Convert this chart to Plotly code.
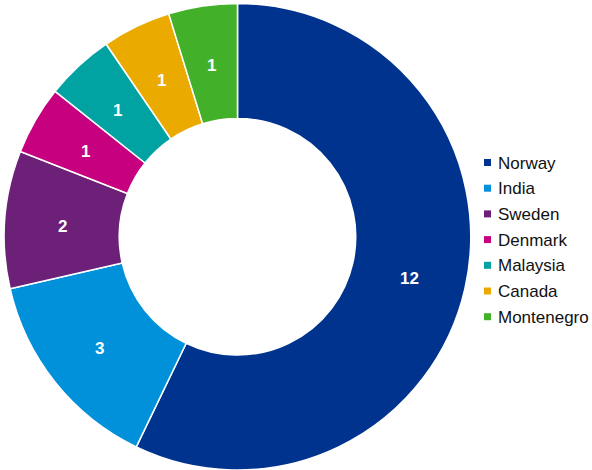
import math
import plotly.graph_objects as go

countries = ["Norway", "India", "Sweden", "Denmark", "Malaysia", "Canada", "Montenegro"]
values = [12, 3, 2, 1, 1, 1, 1]
colors = ["#00338D", "#0091DA", "#6D2077", "#C6007E", "#00A3A1", "#EAAA00", "#43B02A"]

W, H = 592, 470
FONT = "Liberation Sans, Arial, sans-serif"

# pie geometry (pixels)
CX, CY, R_OUT = 237.5, 237, 233.5
HOLE = 0.507

fig = go.Figure(go.Pie(
    labels=countries,
    values=values,
    marker=dict(colors=colors, line=dict(color="white", width=1.5)),
    hole=HOLE,
    sort=False,
    direction="clockwise",
    rotation=0,
    textinfo="none",
    domain=dict(x=[(CX - R_OUT) / W, (CX + R_OUT) / W],
                y=[max(0, 1 - (CY + R_OUT) / H), 1 - (CY - R_OUT) / H]),
    showlegend=False,
    hoverinfo="label+value",
))

annotations = []
# value labels at mid-ring radius, angles derived from the data
total = sum(values)
r_mid = R_OUT * (1 + HOLE) / 2
cum = 0
for v in values:
    mid = (cum + v / 2) / total * 2 * math.pi  # clockwise from 12 o'clock
    cum += v
    px = CX + r_mid * math.sin(mid)
    py = CY - r_mid * math.cos(mid)
    annotations.append(dict(text=str(v), xref="paper", yref="paper",
                            x=px / W, y=1 - (py + 2.2) / H,
                            xanchor="center", yanchor="middle", showarrow=False,
                            font=dict(family=FONT, size=17, color="white", weight="bold")))

shapes = []
y0 = 162.5
step = 25.7
for i, (name, col) in enumerate(zip(countries, colors)):
    cy = y0 + step * i
    shapes.append(dict(type="rect", xref="paper", yref="paper",
                       x0=484 / W, x1=491 / W,
                       y0=1 - (cy + 3.5) / H, y1=1 - (cy - 3.5) / H,
                       fillcolor=col, line=dict(width=0)))
    annotations.append(dict(text=name, xref="paper", yref="paper",
                            x=496 / W, y=1 - (cy + 0.5) / H,
                            xanchor="left", yanchor="middle", showarrow=False,
                            font=dict(family=FONT, size=17, color="#111111")))

fig.update_layout(
    width=W, height=H,
    margin=dict(l=0, r=0, t=0, b=0),
    paper_bgcolor="white",
    plot_bgcolor="white",
    shapes=shapes,
    annotations=annotations,
)

fig.write_html("out.html", config={"displayModeBar": False},
               post_script="document.body.style.margin='0';")
